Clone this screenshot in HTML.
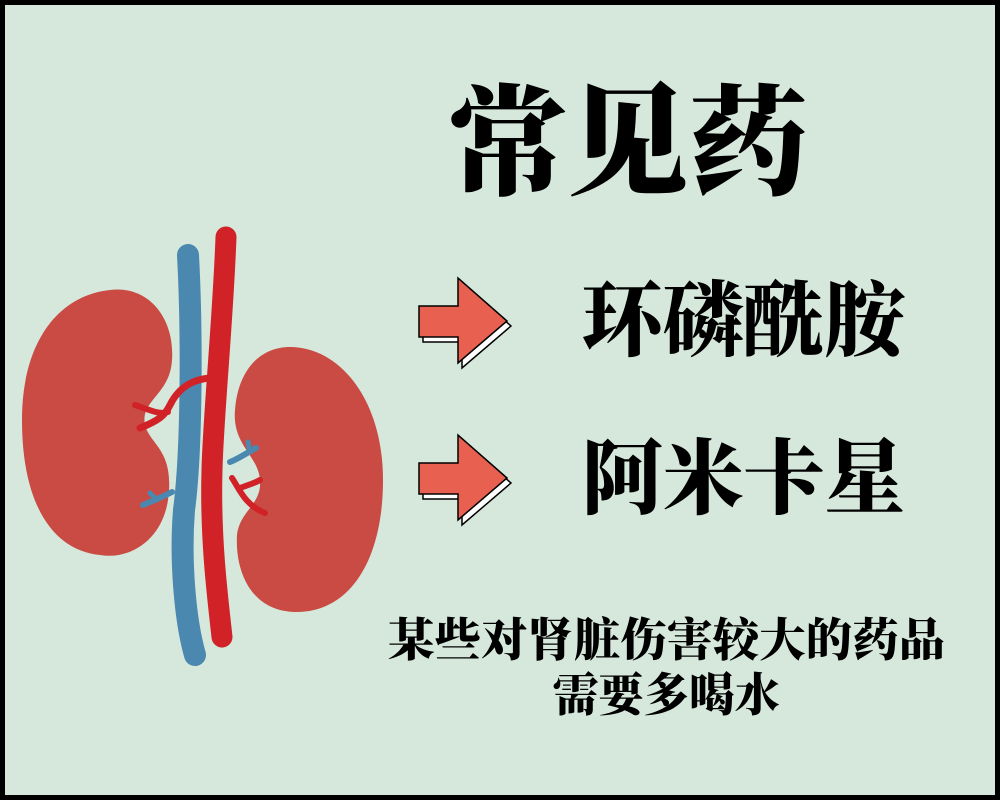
<!DOCTYPE html>
<html><head><meta charset="utf-8"><style>
html,body{margin:0;padding:0;width:1000px;height:800px;overflow:hidden;background:#000}
svg{display:block}
</style></head><body>
<svg width="1000" height="800" viewBox="0 0 1000 800" xmlns="http://www.w3.org/2000/svg">
<rect x="0" y="0" width="1000" height="800" fill="#000"/>
<rect x="5" y="5" width="990" height="790" fill="#d6e8dc"/>
<path d="M110,290 C150,285 175,320 172,360 C170,395 140,400 145,425 C150,445 175,450 168,500 C162,540 130,560 100,555 C50,550 22,500 22,420 C22,340 60,295 110,290 Z" fill="#c94b43"/>
<path d="M290,347 C340,347 383,400 383,480 C383,560 350,613 295,612 C250,611 235,570 237,535 C240,510 262,505 260,480 C258,455 232,445 235,410 C238,370 260,347 290,347 Z" fill="#c94b43"/>
<path d="M188,255 C192,330 192,450 184,510 C180,560 185,620 195,655" stroke="#4a88b0" stroke-width="22" fill="none" stroke-linecap="round"/>
<path d="M226,237 C223,320 213,420 212,470 C210,540 218,600 222,637" stroke="#d12228" stroke-width="21" fill="none" stroke-linecap="round"/>
<path d="M210,378 C185,380 175,395 170,405 C165,415 160,420 140,428" stroke="#d12228" stroke-width="7" fill="none" stroke-linecap="round"/>
<path d="M135,405 C150,410 160,415 168,412" stroke="#d12228" stroke-width="6" fill="none" stroke-linecap="round"/>
<path d="M172,492 C162,497 155,500 143,505" stroke="#4a88b0" stroke-width="6" fill="none" stroke-linecap="round"/>
<path d="M150,493 L157,500" stroke="#4a88b0" stroke-width="5" stroke-linecap="round"/>
<path d="M230,462 C240,458 248,452 256,448" stroke="#4a88b0" stroke-width="6" fill="none" stroke-linecap="round"/>
<path d="M248,442 L250,452" stroke="#4a88b0" stroke-width="5" stroke-linecap="round"/>
<path d="M232,478 C240,490 245,505 265,513" stroke="#d12228" stroke-width="6" fill="none" stroke-linecap="round"/>
<path d="M240,488 C248,485 255,483 260,480" stroke="#d12228" stroke-width="6" fill="none" stroke-linecap="round"/>
<g>
<polygon points="419,306 458,306 458,278 507,321 458,363 458,337 419,337" fill="#fff" stroke="#000" stroke-width="1.5" transform="translate(4,5)"/>
<polygon points="419,306 458,306 458,278 507,321 458,363 458,337 419,337" fill="#e8604f" stroke="#000" stroke-width="1.5"/>
</g>
<g transform="translate(0,157)">
<polygon points="419,306 458,306 458,278 507,321 458,363 458,337 419,337" fill="#fff" stroke="#000" stroke-width="1.5" transform="translate(4,5)"/>
<polygon points="419,306 458,306 458,278 507,321 458,363 458,337 419,337" fill="#e8604f" stroke="#000" stroke-width="1.5"/>
</g>
<g font-family="'Liberation Serif','Noto Serif CJK SC',serif" font-weight="900" fill="#000">
<text x="448" y="185" font-size="120" textLength="360" lengthAdjust="spacingAndGlyphs">常见药</text>
<text x="582" y="349" font-size="82" textLength="323" lengthAdjust="spacingAndGlyphs">环磷酰胺</text>
<text x="582" y="507" font-size="82" textLength="323" lengthAdjust="spacingAndGlyphs">阿米卡星</text>
<text x="388" y="656" font-size="46" textLength="557" lengthAdjust="spacingAndGlyphs">某些对肾脏伤害较大的药品</text>
<text x="553" y="711" font-size="46" textLength="227" lengthAdjust="spacingAndGlyphs">需要多喝水</text>
</g>
</svg>
</body></html>
